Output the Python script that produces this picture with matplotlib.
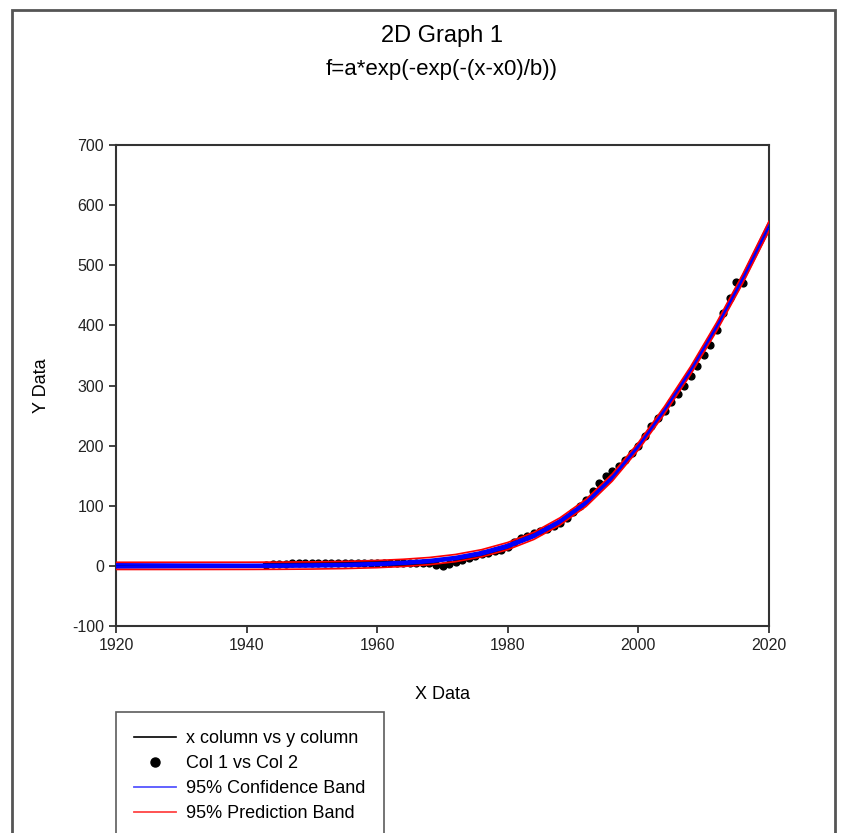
import numpy as np
import matplotlib.pyplot as plt
from matplotlib.patches import Rectangle
from matplotlib.lines import Line2D

plt.rcParams['font.family'] = ['Liberation Sans', 'DejaVu Sans']
plt.rcParams['axes.unicode_minus'] = False

# data points (Col 1 vs Col 2)
years = np.arange(1943, 2017)
values = [2, 3, 3, 3, 4, 4, 4, 4, 5, 5,
          5, 5, 5, 5, 5, 5, 5, 5, 5, 5,
          5, 5, 5, 5, 5, 4, 1, 0, 3, 6,
          9, 13, 16, 19, 21, 24, 27, 32, 40, 46,
          50, 55, 58, 62, 66, 72, 80, 90, 100, 110,
          125, 138, 150, 157, 166, 176, 188, 200, 216, 232,
          246, 258, 272, 286, 300, 316, 333, 350, 368, 392,
          420, 446, 472, 470]

# fitted curve
fit_x = [1920, 1930, 1940, 1945, 1950, 1955, 1960, 1964, 1968, 1972,
         1976, 1980, 1984, 1988, 1992, 1996, 2000, 2004, 2008, 2012,
         2016, 2020]
fit_y = [0, 0, 0.1, 0.3, 0.7, 1.5, 3, 5, 8, 13,
         21, 33, 50, 74, 105, 147, 199, 259, 325, 398,
         478, 565]
conf_half = [2.5, 2, 1.6, 1.5, 1.5, 1.5, 1.5, 1.5, 1.6, 1.7,
             1.8, 2, 2, 2, 2, 2, 2.2, 2.4, 2.7, 3,
             3.8, 5]
pred_half = [6, 6, 6, 6, 6, 6, 6, 6, 6, 6,
             6, 6, 6, 6, 6, 6, 6, 6.2, 6.5, 7,
             7.5, 8]

fit_x = np.array(fit_x)
fit_y = np.array(fit_y)
conf_half = np.array(conf_half)
pred_half = np.array(pred_half)

fig = plt.figure(figsize=(8.44, 8.33), dpi=100)
fig.patches.append(Rectangle((12 / 844, -0.05), (835 - 12) / 844, 1.05 - 10 / 833,
                             transform=fig.transFigure, fill=False,
                             edgecolor='#555555', linewidth=2))

ax = fig.add_axes([116 / 844, 1 - 626 / 833, (769 - 116) / 844, (626 - 145) / 833])

ax.scatter(years, values, s=24, color='black', zorder=2)
ax.plot(fit_x, fit_y, color='black', lw=1.3, zorder=3)
ax.plot(fit_x, fit_y + conf_half, color='#0000ff', lw=2, zorder=4)
ax.plot(fit_x, fit_y - conf_half, color='#0000ff', lw=2, zorder=4)
ax.plot(fit_x, fit_y + pred_half, color='#ff0000', lw=1.2, zorder=5)
ax.plot(fit_x, fit_y - pred_half, color='#ff0000', lw=1.2, zorder=5)

ax.set_xlim(1920, 2020)
ax.set_ylim(-100, 700)
ax.set_xticks(range(1920, 2021, 20))
ax.set_yticks(range(-100, 701, 100))
ax.tick_params(direction='out', length=5, width=1.2, labelsize=11.5, colors='#222222')
for s in ax.spines.values():
    s.set_linewidth(1.5)
    s.set_color('#333333')

ax.set_xlabel('X Data', fontsize=13, labelpad=24)
ax.set_ylabel('Y Data', fontsize=13, labelpad=16)

fig.text(442 / 844, 1 - 36 / 833, '2D Graph 1', ha='center', va='center', fontsize=17)
fig.text(442 / 844, 1 - 69 / 833, 'f=a*exp(-exp(-(x-x0)/b))', ha='center', va='center', fontsize=16)

# legend with thin line handles like the original
handles = [Line2D([], [], color='black', lw=1.2),
           Line2D([], [], color='black', marker='o', ms=6.5, lw=0),
           Line2D([], [], color='#5555ff', lw=1.3),
           Line2D([], [], color='#ff4444', lw=1.3)]
labels = ['x column vs y column', 'Col 1 vs Col 2',
          '95% Confidence Band', '95% Prediction Band']
leg = fig.legend(handles, labels,
                 loc='upper left', bbox_to_anchor=(116 / 844, 1 - 712 / 833),
                 borderaxespad=0, fontsize=13, frameon=True, fancybox=False,
                 edgecolor='#333333', handlelength=2.3, handletextpad=0.6,
                 labelspacing=0.45, borderpad=1.0)
leg.get_frame().set_linewidth(1.2)

fig.savefig('out.png', dpi=100)
